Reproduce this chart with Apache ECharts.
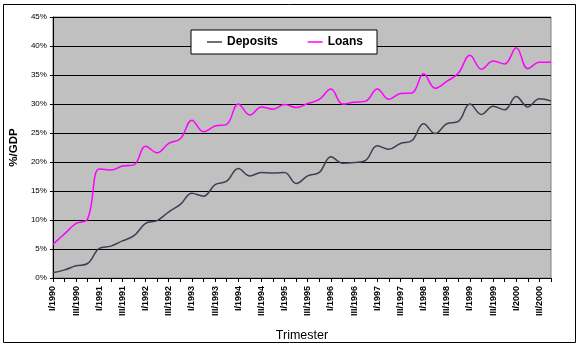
<!DOCTYPE html>
<html>
<head>
<meta charset="utf-8">
<script src="https://cdn.jsdelivr.net/npm/echarts@6/dist/echarts.min.js"></script>
<style>
  html, body { margin: 0; padding: 0; background: #fff; }
  #chart { width: 579px; height: 347px; }
</style>
</head>
<body>
<div id="chart"></div>
<script>
// Quarterly categories, I/1990 .. IV/2000
const years = [1990, 1991, 1992, 1993, 1994, 1995, 1996, 1997, 1998, 1999, 2000];
const quarters = ['I', 'II', 'III', 'IV'];
const categories = [];
years.forEach(y => quarters.forEach(q => categories.push(q + '/' + y)));

// Ratios to GDP, in percent
const deposits = [
  0.9, 1.4, 2.1, 2.5, 5.1, 5.5, 6.4, 7.3, 9.4, 9.9, 11.4, 12.7,
  14.6, 14.1, 16.1, 16.7, 18.9, 17.6, 18.2, 18.1, 18.2, 16.3, 17.6, 18.2,
  20.9, 19.8, 19.9, 20.3, 22.8, 22.2, 23.2, 23.7, 26.6, 24.9, 26.6, 27.0,
  30.0, 28.2, 29.6, 29.0, 31.3, 29.5, 30.9, 30.5
];
const loans = [
  5.8, 7.6, 9.4, 10.2, 18.8, 18.6, 19.3, 19.5, 22.7, 21.6, 23.2, 24.0,
  27.2, 25.2, 26.2, 26.5, 30.0, 28.1, 29.5, 29.1, 29.9, 29.4, 30.1, 30.8,
  32.6, 30.0, 30.3, 30.5, 32.6, 30.8, 31.8, 31.9, 35.2, 32.7, 33.9, 35.3,
  38.4, 36.0, 37.4, 36.9, 39.7, 36.1, 37.2, 37.2
];

const FONT = '"Liberation Sans", Arial, sans-serif';
const chart = echarts.init(document.getElementById('chart'), null, { renderer: 'canvas' });

chart.setOption({
  animation: false,
  backgroundColor: '#ffffff',
  textStyle: { fontFamily: FONT, color: '#000' },
  graphic: [{
    type: 'rect',
    shape: { x: 3.5, y: 4.5, width: 572, height: 338 },
    style: { fill: 'none', stroke: '#000', lineWidth: 1 },
    z: -1
  }],
  grid: {
    left: 48, right: 28, top: 17, bottom: 68,
    show: true,
    backgroundColor: '#c0c0c0',
    borderColor: '#808080',
    borderWidth: 1
  },
  legend: {
    left: 191, top: 30,
    padding: [5, 14, 5, 16],
    itemGap: 30,
    itemWidth: 15,
    itemHeight: 1.5,
    icon: 'rect',
    backgroundColor: '#ffffff',
    borderColor: '#000',
    borderWidth: 1,
    textStyle: { fontFamily: FONT, fontSize: 12, fontWeight: 'bold', color: '#000', lineHeight: 14 },
    data: ['Deposits', 'Loans']
  },
  xAxis: {
    type: 'category',
    data: categories,
    boundaryGap: false,
    name: 'Trimester',
    nameLocation: 'middle',
    nameGap: 51,
    nameTextStyle: { fontFamily: FONT, fontSize: 12.5, color: '#000' },
    axisLine: { lineStyle: { color: '#000', width: 1 } },
    axisTick: { show: true, interval: 0, length: 4, lineStyle: { color: '#000' } },
    axisLabel: {
      interval: 1,
      rotate: 90,
      margin: 8,
      fontFamily: FONT,
      fontSize: 9,
      fontWeight: 'bold',
      color: '#000'
    },
    splitLine: { show: false }
  },
  yAxis: {
    type: 'value',
    min: 0, max: 45, interval: 5,
    name: '%/GDP',
    nameLocation: 'middle',
    nameGap: 32,
    nameTextStyle: { fontFamily: FONT, fontSize: 11.5, fontWeight: 'bold', color: '#000' },
    axisLine: { show: true, lineStyle: { color: '#000', width: 1 } },
    axisTick: { show: true, length: 3, lineStyle: { color: '#000' } },
    axisLabel: {
      formatter: '{value}%',
      margin: 6,
      fontFamily: FONT,
      fontSize: 8,
      color: '#000'
    },
    splitLine: { show: true, lineStyle: { color: '#000', width: 1 } }
  },
  series: [
    {
      name: 'Deposits',
      type: 'line',
      data: deposits,
      smooth: 0.4,
      symbol: 'none',
      color: '#3f3f52',
      lineStyle: { color: '#3f3f52', width: 1.5 }
    },
    {
      name: 'Loans',
      type: 'line',
      data: loans,
      smooth: 0.4,
      symbol: 'none',
      color: '#ff00ff',
      lineStyle: { color: '#ff00ff', width: 1.5 }
    }
  ]
});
</script>
</body>
</html>
